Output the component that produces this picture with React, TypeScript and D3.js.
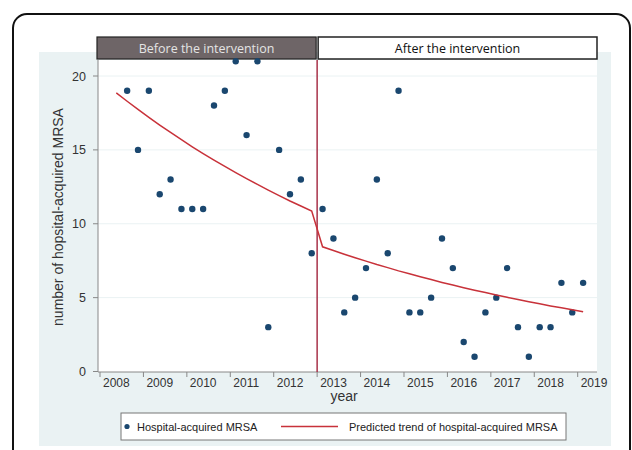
import React from "react";
import * as d3 from "d3";

// quarters with an observed count (mid-quarter positions)
const quarters = [
  "2008Q3", "2008Q4",
  "2009Q1", "2009Q2", "2009Q3", "2009Q4",
  "2010Q1", "2010Q2", "2010Q3", "2010Q4",
  "2011Q1", "2011Q2", "2011Q3", "2011Q4",
  "2012Q1", "2012Q2", "2012Q3", "2012Q4",
  "2013Q1", "2013Q2", "2013Q3", "2013Q4",
  "2014Q1", "2014Q2", "2014Q3", "2014Q4",
  "2015Q1", "2015Q2", "2015Q3", "2015Q4",
  "2016Q1", "2016Q2", "2016Q3", "2016Q4",
  "2017Q1", "2017Q2", "2017Q3", "2017Q4",
  "2018Q1", "2018Q2", "2018Q3", "2018Q4",
  "2019Q1",
];

const mrsaCounts = [
  19, 15,
  19, 12, 13, 11,
  11, 11, 18, 19,
  21, 16, 21, 3,
  15, 12, 13, 8,
  11, 9, 4, 5,
  7, 13, 8, 19,
  4, 4, 5, 9,
  7, 2, 1, 4,
  5, 7, 3, 1,
  3, 3, 6, 4,
  6,
];

const trendQuarters = ["2008Q2", ...quarters];
const trendValues = [
  18.86, 18.29, 17.74,
  17.2, 16.68, 16.18, 15.69,
  15.21, 14.75, 14.31, 13.88,
  13.46, 13.05, 12.66, 12.27,
  11.9, 11.54, 11.2, 10.86,
  8.44, 8.19, 7.94, 7.7,
  7.47, 7.24, 7.03, 6.81,
  6.61, 6.41, 6.22, 6.03,
  5.85, 5.67, 5.5, 5.34,
  5.18, 5.02, 4.87, 4.72,
  4.58, 4.44, 4.31, 4.18,
  4.05,
];

const yearTicks = [2008, 2009, 2010, 2011, 2012, 2013, 2014, 2015, 2016, 2017, 2018, 2019];
const countTicks = [0, 5, 10, 15, 20];
const interventionYear = 2013;

const toTime = (q: string) => +q.slice(0, 4) + (+q.slice(5) - 0.5) / 4;

const navy = "#1a476f";
const red = "#c8323a";
const sans = "'Liberation Sans', Arial, sans-serif";

export default function App() {
  const plot = { left: 98, right: 597, top: 60, bottom: 372 };
  const x = d3.scaleLinear().domain([2008, 2019]).range([100, 577.7]);
  const y = d3.scaleLinear().domain([0, 20]).range([371.5, 76]);

  const line = d3
    .line<number>()
    .x((_, i) => x(toTime(trendQuarters[i])))
    .y((d) => y(d));

  const xi = x(interventionYear);

  return (
    <svg
      width={632}
      height={450}
      style={{ position: "absolute", left: 0, top: 0, background: "#fff" }}
    >
      <rect x={13} y={14} width={617} height={470} rx={14} fill="#fff" stroke="#111" strokeWidth={2} />
      <rect x={39} y={52} width={572} height={394} fill="#eaf2f3" />

      {/* plot region */}
      <rect x={plot.left} y={plot.top} width={plot.right - plot.left} height={plot.bottom - plot.top} fill="#fff" />
      {countTicks.slice(1).map((t) => (
        <line key={t} x1={plot.left} x2={plot.right} y1={y(t)} y2={y(t)} stroke="#eaf2f3" strokeWidth={1} />
      ))}

      {/* header strips */}
      <rect x={97} y={37} width={xi - 97 - 1} height={22} fill="#6e6567" stroke="#222" strokeWidth={1.2} />
      <text x={(97 + xi - 1) / 2} y={53} textAnchor="middle" fontFamily="'Open Sans', sans-serif" fontSize={12.5} fill="#e4e4e4">
        Before the intervention
      </text>
      <rect x={xi + 1} y={37} width={597 - xi - 1} height={22} fill="#fff" stroke="#222" strokeWidth={1.5} />
      <text x={(xi + 1 + 597) / 2} y={53} textAnchor="middle" fontFamily="'Open Sans', sans-serif" fontSize={12.5} fill="#111">
        After the intervention
      </text>

      {/* y axis */}
      <line x1={plot.left} x2={plot.left} y1={plot.top} y2={plot.bottom} stroke="#888" strokeWidth={1} />
      {countTicks.map((t) => (
        <g key={t}>
          <line x1={plot.left - 5} x2={plot.left} y1={y(t)} y2={y(t)} stroke="#888" />
          <text x={plot.left - 12} y={y(t) + 4.5} textAnchor="end" fontFamily={sans} fontSize={12.5} fill="#333">
            {t}
          </text>
        </g>
      ))}
      <text
        transform={`translate(63,217) rotate(-90)`}
        textAnchor="middle"
        fontFamily={sans}
        fontSize={14}
        fill="#333"
      >
        number of hopsital-acquired MRSA
      </text>

      {/* x axis */}
      <line x1={plot.left} x2={plot.right} y1={plot.bottom} y2={plot.bottom} stroke="#888" strokeWidth={1} />
      {yearTicks.map((t) => (
        <g key={t}>
          <line x1={x(t)} x2={x(t)} y1={plot.bottom} y2={plot.bottom + 5} stroke="#888" />
          <text x={x(t) + 3} y={plot.bottom + 15} fontFamily={sans} fontSize={12} fill="#333">
            {t}
          </text>
        </g>
      ))}
      <text x={344} y={401} textAnchor="middle" fontFamily={sans} fontSize={14} fill="#333">
        year
      </text>

      {/* intervention line */}
      <line x1={xi} x2={xi} y1={plot.top} y2={plot.bottom} stroke="#a83249" strokeWidth={1.5} />

      {/* points */}
      {mrsaCounts.map((d, i) => (
        <circle key={quarters[i]} cx={x(toTime(quarters[i]))} cy={y(d)} r={3.2} fill={navy} />
      ))}

      {/* trend */}
      <path d={line(trendValues) || ""} fill="none" stroke={red} strokeWidth={1.5} />

      {/* legend */}
      <rect x={121} y={413} width={445} height={27} fill="#fff" stroke="#777" strokeWidth={1} />
      <circle cx={127} cy={426.5} r={2.6} fill={navy} />
      <text x={137} y={430.5} fontFamily={sans} fontSize={11} fill="#222">
        Hospital-acquired MRSA
      </text>
      <line x1={281} x2={338} y1={426.5} y2={426.5} stroke={red} strokeWidth={1.5} />
      <text x={349} y={430.5} fontFamily={sans} fontSize={11} fill="#222">
        Predicted trend of hospital-acquired MRSA
      </text>
    </svg>
  );
}
